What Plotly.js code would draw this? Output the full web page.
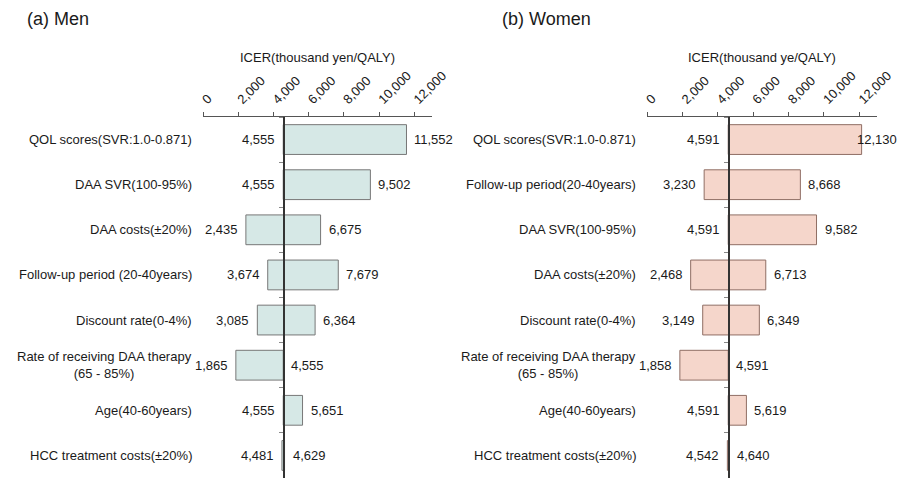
<!DOCTYPE html>
<html><head><meta charset="utf-8">
<script src="https://cdn.plot.ly/plotly-3.0.1.min.js"></script>
<style>html,body{margin:0;padding:0;background:#fff}#chart{width:898px;height:478px}</style>
</head><body><div id="chart"></div>
<script>
// ---- data ----
const menCategories = [
  "QOL scores(SVR:1.0-0.871)",
  "DAA SVR(100-95%)",
  "DAA costs(±20%)",
  "Follow-up period (20-40years)",
  "Discount rate(0-4%)",
  "Rate of receiving DAA therapy<br>(65 - 85%)",
  "Age(40-60years)",
  "HCC treatment costs(±20%)"
];
const menLow  = [4555, 4555, 2435, 3674, 3085, 1865, 4555, 4481];
const menHigh = [11552, 9502, 6675, 7679, 6364, 4555, 5651, 4629];
const menBase = 4555;

const womenCategories = [
  "QOL scores(SVR:1.0-0.871)",
  "Follow-up period(20-40years)",
  "DAA SVR(100-95%)",
  "DAA costs(±20%)",
  "Discount rate(0-4%)",
  "Rate of receiving DAA therapy<br>(65 - 85%)",
  "Age(40-60years)",
  "HCC treatment costs(±20%)"
];
const womenLow  = [4591, 3230, 4591, 2468, 3149, 1858, 4591, 4542];
const womenHigh = [12130, 8668, 9582, 6713, 6349, 4591, 5619, 4640];
const womenBase = 4591;

const xTickValues = [0, 2000, 4000, 6000, 8000, 10000, 12000];
const xTickLabels = ["0", "2,000", "4,000", "6,000", "8,000", "10,000", "12,000"];
const panelTitles = ["(a) Men", "(b) Women"];
const axisTitles = ["ICER(thousand yen/QALY)", "ICER(thousand ye/QALY)"];

// ---- layout geometry ----
const W = 898, H = 478, TOP = 117;
const FONT = "Liberation Sans, Arial, Helvetica, sans-serif";
const XMAX = 13000;
const panels = [
  {cats: menCategories, low: menLow, high: menHigh, base: menBase,
   dom: [203 / W, 432 / W], fill: "#d6e8e6", line: "#777777",
   xa: "xaxis", ya: "yaxis", x: "x", y: "y"},
  {cats: womenCategories, low: womenLow, high: womenHigh, base: womenBase,
   dom: [647 / W, 877 / W], fill: "#f5d6cb", line: "#8f6e64",
   xa: "xaxis2", ya: "yaxis2", x: "x2", y: "y2"}
];
const plotH = H - TOP;
const py = p => (H - p) / plotH; // pixel y -> paper y

const fmt = v => v.toLocaleString("en-US");
const textW = s => { let w = 0; for (const c of s) w += (c === "," ? 3.6 : 7.23); return w; };

const traces = [];
const annotations = [];
const layout = {
  width: W, height: H,
  margin: {l: 0, r: 0, t: TOP, b: 0, pad: 0},
  paper_bgcolor: "#ffffff", plot_bgcolor: "rgba(0,0,0,0)",
  showlegend: false,
  font: {family: FONT, size: 13, color: "#1a1a1a"},
  bargap: 0.34,
  annotations: annotations
};

panels.forEach((p, i) => {
  traces.push({
    type: "bar", orientation: "h",
    y: p.cats,
    x: p.high.map((h, k) => h - p.low[k]),
    base: p.low,
    xaxis: p.x, yaxis: p.y,
    width: 0.66,
    marker: {color: p.fill, line: {color: p.line, width: 1}},
    hoverinfo: "skip"
  });
  const domW = p.dom[1] - p.dom[0];
  layout[p.xa] = {
    domain: p.dom, anchor: p.y, side: "top",
    range: [0, XMAX], autorange: false,
    tickvals: xTickValues, ticktext: xTickLabels,
    tickangle: -45, tickfont: {size: 13, family: FONT, color: "#1a1a1a"},
    ticks: "outside", ticklen: 4, tickcolor: "#555", tickwidth: 1,
    showline: true, linecolor: "#555", linewidth: 1.2,
    showgrid: false, zeroline: false, fixedrange: true
  };
  layout[p.ya] = {
    domain: [0, 1], anchor: "free",
    position: p.dom[0] + domW * p.base / XMAX,
    type: "category", categoryarray: p.cats, categoryorder: "array",
    range: [p.cats.length - 0.5, -0.5], autorange: false,
    showticklabels: false,
    ticks: "outside", tickson: "boundaries", ticklen: 4, tickcolor: "#888", tickwidth: 1,
    showline: true, linecolor: "#333", linewidth: 1.4,
    showgrid: false, zeroline: false, fixedrange: true
  };
  // category labels
  p.cats.forEach(c => annotations.push({
    xref: "paper", yref: p.y, x: p.dom[0], y: c,
    text: c, showarrow: false, xanchor: "right", yanchor: "middle",
    align: "center", xshift: -9, font: {size: 13, family: FONT, color: "#1a1a1a"}
  }));
  // value labels
  p.cats.forEach((c, k) => {
    annotations.push({
      xref: p.x, yref: p.y, x: p.low[k], y: c, text: fmt(p.low[k]),
      showarrow: false, xanchor: "right", yanchor: "middle", xshift: -6,
      font: {size: 13, family: FONT, color: "#1a1a1a"}
    });
    const hx = (p.dom[0] + domW * p.high[k] / XMAX) * W + 8;
    const txt = fmt(p.high[k]);
    if (hx + textW(txt) > W) {
      annotations.push({
        xref: "paper", yref: p.y, x: 1, y: c, text: txt,
        showarrow: false, xanchor: "right", yanchor: "middle", xshift: 1,
        font: {size: 13, family: FONT, color: "#1a1a1a"}
      });
    } else {
      annotations.push({
        xref: p.x, yref: p.y, x: p.high[k], y: c, text: txt,
        showarrow: false, xanchor: "left", yanchor: "middle", xshift: 6,
        font: {size: 13, family: FONT, color: "#1a1a1a"}
      });
    }
  });
  // axis title
  annotations.push({
    xref: "paper", yref: "paper", x: (p.dom[0] + p.dom[1]) / 2, y: py(57),
    text: axisTitles[i], showarrow: false, xanchor: "center", yanchor: "middle",
    font: {size: 13, family: FONT, color: "#1a1a1a"}
  });
});

// panel titles
annotations.push({
  xref: "paper", yref: "paper", x: 25 / W, y: py(19), text: panelTitles[0],
  showarrow: false, xanchor: "left", yanchor: "middle",
  font: {size: 18, family: FONT, color: "#1a1a1a"}
});
annotations.push({
  xref: "paper", yref: "paper", x: 500 / W, y: py(19), text: panelTitles[1],
  showarrow: false, xanchor: "left", yanchor: "middle",
  font: {size: 18, family: FONT, color: "#1a1a1a"}
});

Plotly.newPlot("chart", traces, layout, {displayModeBar: false, staticPlot: true});
</script>
</body></html>
